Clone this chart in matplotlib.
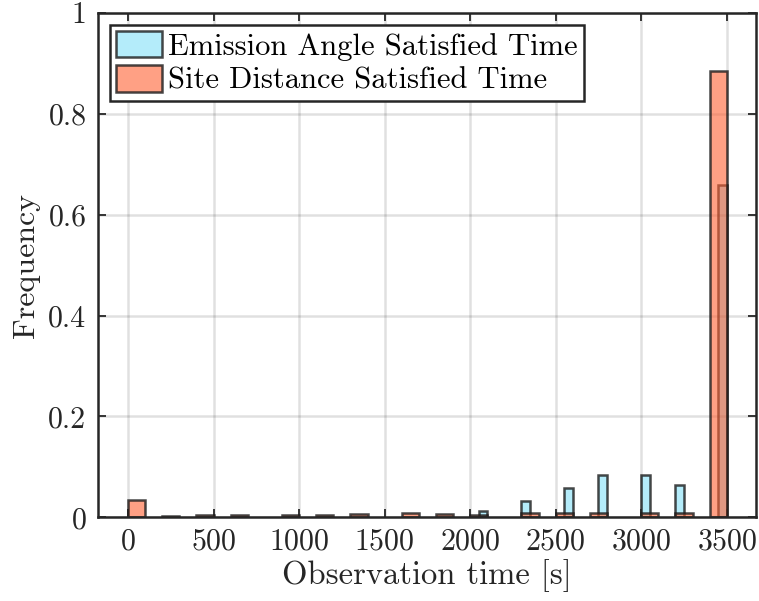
import numpy as np
import matplotlib
matplotlib.use('Agg')
import matplotlib.pyplot as plt

# histogram bars (left edge, frequency)
angle_left = [2050, 2300, 2550, 2750, 3000, 3200, 3450]
angle_freq = [0.012, 0.032, 0.058, 0.084, 0.084, 0.065, 0.659]
angle_width = 50

dist_left = [0, 200, 400, 600, 900, 1100, 1300, 1600, 1800, 2000,
             2300, 2500, 2700, 3000, 3200, 3400]
dist_freq = [0.034, 0.003, 0.004, 0.004, 0.004, 0.005, 0.006, 0.008, 0.006, 0.004,
             0.008, 0.008, 0.008, 0.008, 0.008, 0.885]
dist_width = 100

x_ticks = [0, 500, 1000, 1500, 2000, 2500, 3000, 3500]
y_ticks = [0, 0.2, 0.4, 0.6, 0.8, 1.0]
y_labels = ['0', '0.2', '0.4', '0.6', '0.8', '1']

# computer modern look, like the LaTeX interpreter
plt.rcParams['font.family'] = ['cmr10', 'DejaVu Serif']
plt.rcParams['axes.formatter.use_mathtext'] = True
plt.rcParams['font.size'] = 21

fig = plt.figure(figsize=(7.59, 6.01), dpi=100)
ax = fig.add_axes([0.1285, 0.139, 0.8676, 0.840])

# face alpha only, edges stay solid
ax.bar(angle_left, angle_freq, width=angle_width, align='edge',
       color=(0.51, 0.88, 0.97, 0.6), edgecolor=(0.1, 0.1, 0.1, 0.8), linewidth=1.8,
       label='Emission Angle Satisfied Time', zorder=2)
ax.bar(dist_left, dist_freq, width=dist_width, align='edge',
       color=(1.0, 0.38, 0.2, 0.6), edgecolor=(0.1, 0.1, 0.1, 0.8), linewidth=1.8,
       label='Site Distance Satisfied Time', zorder=3)

ax.set_xlim(-178, 3671)
ax.set_ylim(0, 1)
ax.set_xticks(x_ticks)
ax.set_yticks(y_ticks)
ax.set_yticklabels(y_labels)
ax.grid(True, color='black', alpha=0.12, linewidth=1.8, zorder=4)
ax.set_axisbelow(False)
ax.tick_params(direction='in', length=6, width=1.3, top=True, right=True,
               labelsize=21.5, colors='#262626', pad=8)
for s in ax.spines.values():
    s.set_linewidth(1.8)
    s.set_color('#262626')
    s.set_zorder(5)

ax.set_xlabel('Observation time [s]', fontsize=23.5, color='#262626', labelpad=2)
ax.set_ylabel('Frequency', fontsize=23, color='#262626', labelpad=6)

leg = ax.legend(loc='upper left', fontsize=22, fancybox=False, framealpha=1,
                edgecolor='#262626', handlelength=1.5, handleheight=0.95,
                handletextpad=0.2, borderpad=0.2, labelspacing=0.15,
                borderaxespad=0.4)
leg.get_frame().set_linewidth(1.8)

fig.savefig('out.png', dpi=100)
